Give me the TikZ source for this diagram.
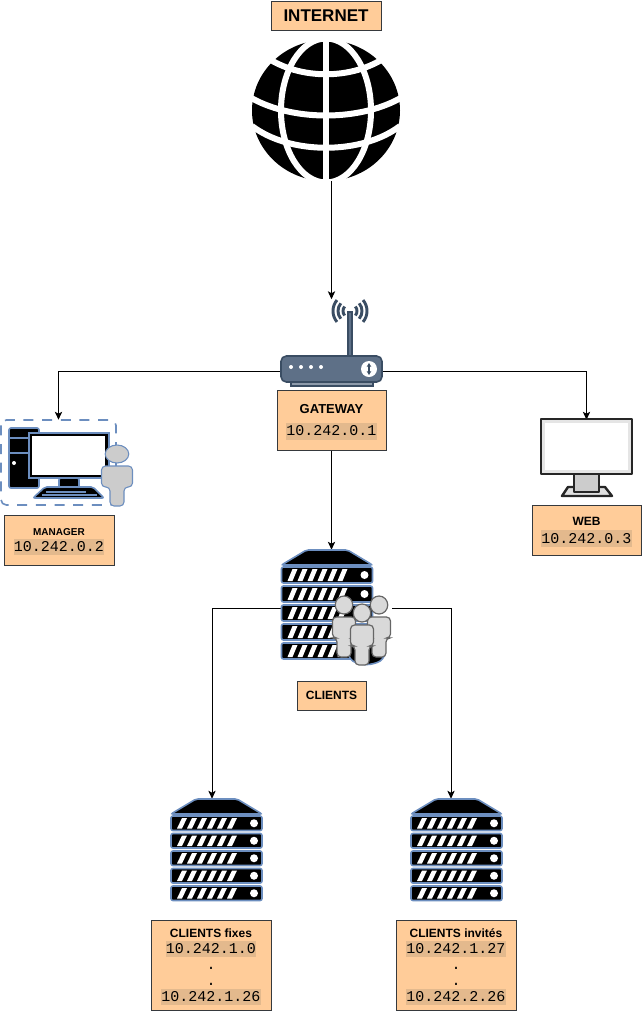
\documentclass[tikz,border=0pt]{standalone}
\usepackage{fontspec}
\setmainfont{Liberation Sans}
\setmonofont{Liberation Mono}
\usetikzlibrary{arrows.meta}
\definecolor{boxfill}{HTML}{FFCC99}
\definecolor{boxline}{HTML}{36393D}
\definecolor{ipshade}{HTML}{E3B98D}
\definecolor{iconblue}{HTML}{6C8EBF}
\definecolor{routerfill}{HTML}{5E7087}
\definecolor{routerline}{HTML}{3A4D63}
\newcommand*{\px}{0.75pt}
\setlength{\fboxsep}{0pt}
\newcommand*{\ipaddr}[1]{\smash{\colorbox{ipshade}{\rule[-3pt]{0pt}{12.5pt}\mdseries\ttfamily\fontsize{11.25}{12}\selectfont #1}}}
\newcommand*{\ipdot}{{\mdseries\ttfamily\fontsize{11.25}{12}\selectfont .}}
\tikzset{
	labelbox/.style 2 args={draw=boxline,fill=boxfill,line width=0.75pt,align=center,inner sep=0pt,
		minimum width=#1*\px,minimum height=#2*\px,font=\fontsize{9}{12}\selectfont\bfseries},
	iconbox/.style 2 args={inner sep=0pt,minimum width=#1*\px,minimum height=#2*\px},
	wire/.style={draw=black,line width=0.75pt,-{Stealth[length=6pt,width=5.5pt,inset=1.5pt]}},
	rackpart/.style={draw=iconblue,fill=black,line width=1.2pt,rounded corners=1.5pt},
	gridline/.style={draw=white,line width=4.5pt},
	managerperson/.style={draw=iconblue,fill=black!20,line width=0.8pt},
	crowdperson/.style={draw=black!60,fill=black!15,line width=0.9pt},
	radiowave/.style={draw=routerline,line width=2.2pt},
	screenpart/.style={draw=black!85,line width=1.8pt,line join=round}
}
% x, y of the top left corner, blade pitch
\newcommand*{\serverrack}[3]{
	\begin{scope}[shift={(#1,#2)}]
		\draw [rackpart] (0,15) -- (25,0) -- (66,0) -- (91,15) -- cycle;
		\foreach \i in {0,...,4} {
			\pgfmathsetmacro{\bladeTop}{17+\i*#3}
			\pgfmathsetmacro{\bladeBot}{\bladeTop+#3-3}
			\draw [rackpart] (0,\bladeTop) rectangle (91,\bladeBot);
			\foreach \j in {0,...,5} {
				\pgfmathsetmacro{\stripeX}{6+\j*10}
				\fill [white] (\stripeX,\bladeBot-2) -- ++(5,0) -- (\stripeX+10,\bladeTop+2) -- ++(-5,0) -- cycle;
			}
			\fill [white] (83,{(\bladeTop+\bladeBot)/2}) circle [radius=4];
		}
	\end{scope}
}
% x, y of the head, half width of the body, style
\newcommand*{\personicon}[4]{
	\begin{scope}[shift={(#1,#2)}]
		\draw [#4] (0,0) ellipse [x radius=#3*0.76,y radius=9];
		\draw [#4,rounded corners=3pt] (-#3,12) -- (#3,12) -- (#3,33) -- (7,33) -- (7,52)
			-- (-7,52) -- (-7,33) -- (-#3,33) -- cycle;
	\end{scope}
}
\begin{document}
\begin{tikzpicture}[x=0.75pt,y=-0.75pt]
	\useasboundingbox (0,0) rectangle (642,1011);

	% labels
	\node [labelbox={110}{29},font=\fontsize{12.75}{14}\selectfont\bfseries] (internetlabel) at (326,15.5) {INTERNET};
	\node [labelbox={109}{60},font=\fontsize{9.75}{12}\selectfont\bfseries] (gatewaylabel) at (331.5,420) {GATEWAY\\[4.5pt]\ipaddr{10.242.0.1}};
	\node [labelbox={110}{50},font=\fontsize{7.5}{12}\selectfont\bfseries] (managerlabel) at (59,540) {MANAGER\\\ipaddr{10.242.0.2}};
	\node [labelbox={109}{50}] (weblabel) at (586.5,530) {WEB\\[1.5pt]\ipaddr{10.242.0.3}};
	\node [labelbox={69}{29}] (clientslabel) at (331.5,695.5) {CLIENTS};
	\node [labelbox={120}{90}] (fixeslabel) at (211,965) {CLIENTS fixes\\\ipaddr{10.242.1.0}\\\ipdot\\\ipdot\\\ipaddr{10.242.1.26}};
	\node [labelbox={120}{90}] (invitedlabel) at (456,965) {CLIENTS invités\\\ipaddr{10.242.1.27}\\\ipdot\\\ipdot\\\ipaddr{10.242.2.26}};

	% icon places
	\node [iconbox={148}{141}] (globe) at (326,110.5) {};
	\node [iconbox={102}{30}] (routerbody) at (332,371) {};
	\node [iconbox={40}{1}] (antenna) at (331.5,300) {};
	\node [iconbox={115}{85}] (managerframe) at (58.5,462.5) {};
	\node [iconbox={91}{76}] (webscreen) at (586.5,458) {};
	\node [iconbox={111}{116}] (clientsrack) at (336.5,608) {};
	\node [iconbox={91}{102}] (fixesrack) at (216.5,850) {};
	\node [iconbox={91}{102}] (invitedrack) at (456.5,850) {};

	% globe
	\fill (326,110.5) ellipse [x radius=74,y radius=70.5];
	\draw [gridline] (326,36) -- (326,185);
	\draw [gridline] (326,110.5) ellipse [x radius=45,y radius=72];
	\draw [gridline] (266,57) .. controls (300,80) and (352,80) .. (386,57);
	\draw [gridline] (248,96) .. controls (290,122) and (362,122) .. (404,96);
	\draw [gridline] (252,126) .. controls (290,155) and (362,155) .. (400,126);

	% connectors
	\draw [wire] (globe.south -| antenna) -- (antenna);
	\draw [wire] (routerbody.west) -| (managerframe.north);
	\draw [wire] (routerbody.east) -| (webscreen.north);
	\draw [wire] (gatewaylabel.south) -- (gatewaylabel.south |- clientsrack.north);
	\draw [wire] (clientsrack.west) -| ([xshift=-4.5*\px]fixesrack.north);
	\draw [wire] (clientsrack.east) -| ([xshift=-5.5*\px]invitedrack.north);

	% router
	\foreach \r in {7,12,17} {
		\draw [radiowave] (350,311) ++(140:\r) arc [start angle=140,end angle=220,radius=\r];
		\draw [radiowave] (350,311) ++(-40:\r) arc [start angle=-40,end angle=40,radius=\r];
	}
	\draw [draw=routerline,fill=routerfill,line width=0.8pt] (348,312) rectangle (352,357);
	\draw [draw=routerline,fill=routerfill!70,line width=0.8pt] (291,380) rectangle (373,386);
	\draw [draw=routerline,fill=routerfill,line width=1.2pt,rounded corners=4pt] (281,356) rectangle (382,382);
	\foreach \i in {291,301,311,321} {
		\fill [white] (\i,367) circle [radius=2];
	}
	\fill [white] (369,369) circle [radius=8];
	\draw [routerline,line width=1.1pt,{Stealth[length=3pt,width=3.5pt]}-{Stealth[length=3pt,width=3.5pt]}] (369,363) -- (369,375);

	% manager
	\draw [iconblue,line width=1.2pt,dash pattern=on 7.5pt off 6.5pt,rounded corners=4pt] (1,420) rectangle (116,505);
	\draw [rackpart] (9,428) rectangle (39,488);
	\draw [iconblue,line width=1pt] (9,438) -- (39,438) (9,453) -- (39,453);
	\fill [white] (14,463) circle [radius=2];
	\draw [rackpart] (59,478) rectangle (79,488);
	\draw [rackpart] (33,498) -- (45,487) -- (93,487) -- (104,498) -- cycle;
	\draw [iconblue,line width=1.5pt] (46,491.5) -- (86,491.5) (42,495) -- (97,495);
	\draw [draw=iconblue,fill=black,line width=1.2pt] (29,433) rectangle (109,478);
	\fill [white] (32,436) rectangle (105,475);
	\personicon{117}{454}{15.5}{managerperson}

	% web
	\draw [screenpart,fill=black!12] (562,496) -- (568,487) -- (605,487) -- (612,496) -- cycle;
	\draw [screenpart,fill=black!20] (574,474) rectangle (599,492);
	\draw [screenpart,fill=black!10] (541,419) rectangle (632,474);
	\fill [white] (545,423) rectangle (628,470);

	% racks
	\serverrack{281.5}{550}{19}
	\serverrack{171}{799}{17.5}
	\serverrack{411}{799}{17.5}

	% crowd
	\draw [rackpart,rounded corners=6pt] (348,640) -- (385,640) -- (385,660) -- (366,666) -- (348,660) -- cycle;
	\personicon{344}{605}{11.5}{crowdperson}
	\personicon{379}{605}{11.5}{crowdperson}
	\personicon{362}{613}{11.5}{crowdperson}
\end{tikzpicture}
\end{document}
